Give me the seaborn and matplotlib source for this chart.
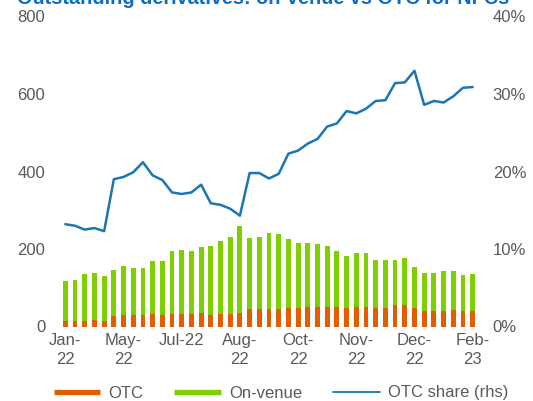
import numpy as np
import seaborn as sns
import matplotlib.pyplot as plt
from matplotlib.lines import Line2D
from matplotlib.ticker import FuncFormatter

sns.set_theme(style="white")
plt.rcParams['font.family'] = ['Liberation Sans', 'DejaVu Sans']
plt.rcParams['font.size'] = 12

otc = [14, 14, 14, 17, 14, 27, 30, 30, 30, 33,
       30, 33, 33, 33, 36, 30, 33, 33, 36, 46,
       46, 46, 46, 48, 48, 50, 50, 50, 50, 48,
       51, 51, 48, 48, 55, 55, 48, 39, 39, 39,
       42, 39, 39]
on_venue = [104, 106, 121, 122, 116, 118, 127, 121, 121, 137,
            140, 162, 164, 162, 168, 178, 187, 199, 224, 183,
            186, 195, 193, 178, 168, 166, 164, 157, 145, 134,
            138, 138, 124, 124, 117, 121, 106, 100, 100, 103,
            100, 93, 96]
otc_share = [13.2, 13.0, 12.5, 12.7, 12.3, 19.0, 19.3, 19.9, 21.2, 19.5,
             18.9, 17.3, 17.1, 17.3, 18.3, 15.9, 15.7, 15.2, 14.3, 19.8,
             19.8, 19.1, 19.7, 22.3, 22.7, 23.6, 24.2, 25.8, 26.2, 27.8,
             27.5, 28.1, 29.1, 29.2, 31.4, 31.5, 33.0, 28.6, 29.1, 28.9,
             29.7, 30.8, 30.9]
tick_labels = ["Jan-\n22", "May-\n22", "Jul-22", "Aug-\n22",
               "Oct-\n22", "Nov-\n22", "Dec-\n22", "Feb-\n23"]
tick_every = 6

ORANGE = "#E25C00"
GREEN = "#7DCF00"
BLUE = "#1C75B4"
GREY = "#595959"
TITLE_BLUE = "#0F6CC4"

pos = np.arange(len(otc))
total = np.array(otc) + np.array(on_venue)

fig = plt.figure(figsize=(5.33, 4.01), dpi=100)
fig.subplots_adjust(left=60.5 / 533, right=477.5 / 533,
                    bottom=1 - 326.5 / 401, top=1 - 16.5 / 401)
ax = fig.add_subplot(111)

sns.barplot(x=pos, y=total, color=GREEN, width=0.5, saturation=1,
            linewidth=0, errorbar=None, ax=ax)
sns.barplot(x=pos, y=otc, color=ORANGE, width=0.5, saturation=1,
            linewidth=0, errorbar=None, ax=ax)
ax.set_xlim(-0.5, len(otc) - 0.5)
ax.set_ylim(0, 800)
ax.set_yticks([0, 200, 400, 600, 800])
ax.set_xticks(pos[::tick_every])
ax.set_xticklabels(tick_labels, linespacing=1.3)
ax.set_xlabel("")
ax.set_ylabel("")
ax.tick_params(axis='y', length=0, pad=11, colors=GREY, labelsize=12)
ax.tick_params(axis='x', length=0, pad=5, colors=GREY, labelsize=12)

ax2 = ax.twinx()
sns.lineplot(x=pos, y=otc_share, color=BLUE, linewidth=1.8, ax=ax2)
ax2.set_ylim(0, 40)
ax2.set_yticks([0, 10, 20, 30, 40])
ax2.yaxis.set_major_formatter(FuncFormatter(lambda v, p: f"{v:.0f}%"))
ax2.set_ylabel("")
ax2.tick_params(axis='y', length=0, pad=11, colors=GREY, labelsize=12)

for a in (ax, ax2):
    for s in a.spines.values():
        s.set_visible(False)
    a.grid(False)

# title sits partly above the canvas, as in the reference
fig.text(17 / 533, 1 - 3.5 / 401, "Outstanding derivatives: on-venue vs OTC for NFCs",
         color=TITLE_BLUE, fontsize=14.3, fontweight='bold', ha='left', va='baseline')

handles = [Line2D([], [], color=ORANGE, lw=3.8, solid_capstyle='butt'),
           Line2D([], [], color=GREEN, lw=3.8, solid_capstyle='butt'),
           Line2D([], [], color=BLUE, lw=1.3)]
fig.legend(handles, ["OTC", "On-venue", "OTC share (rhs)"], ncol=3,
           loc='center', bbox_to_anchor=(281 / 533, 1 - 393 / 401),
           frameon=False, fontsize=12, handlelength=2.8, handletextpad=0.48,
           columnspacing=1.86, labelcolor=GREY)

fig.savefig("out.png", dpi=100)
